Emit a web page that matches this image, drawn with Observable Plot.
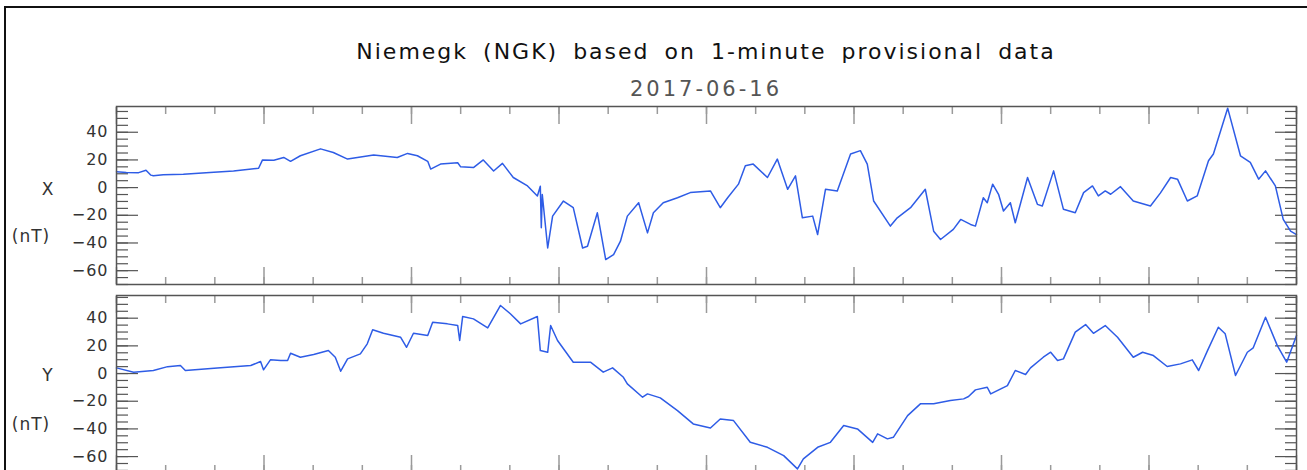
<!DOCTYPE html>
<html>
<head>
<meta charset="utf-8">
<script src="https://cdn.jsdelivr.net/npm/d3@7"></script>
<script src="https://cdn.jsdelivr.net/npm/@observablehq/plot@0.6"></script>
<style>
html, body { margin: 0; padding: 0; background: #fff; }
#wrap { position: relative; width: 1307px; height: 470px; overflow: hidden; font-family: "DejaVu Sans", sans-serif; background: #fff; }
#border { position: absolute; left: 4px; top: 6px; width: 1330px; height: 520px; border: 2px solid #111; box-sizing: border-box; }
.lbl { position: absolute; color: #333; transform: translate(-50%, -50%); white-space: nowrap; }
#title { font-size: 22px; letter-spacing: 2px; word-spacing: 6px; color: #111; }
#subtitle { font-size: 21px; letter-spacing: 3px; color: #555; }
.comp { font-size: 17px; letter-spacing: 1px; }
.panel { position: absolute; left: 0; }
.panel svg text { letter-spacing: 1px; }
</style>
</head>
<body>
<div id="wrap">
  <div id="border"></div>
  <div id="p1" class="panel" style="top:0px"></div>
  <div id="p2" class="panel" style="top:290px"></div>
  <div id="title" class="lbl" style="left:706px; top:51px"></div>
  <div id="subtitle" class="lbl" style="left:706px; top:89px"></div>
  <div class="lbl comp" style="left:48px; top:189px">X</div>
  <div class="lbl comp" style="left:31px; top:236px">(nT)</div>
  <div class="lbl comp" style="left:48px; top:375px">Y</div>
  <div class="lbl comp" style="left:31px; top:424px">(nT)</div>
</div>
<script>
// ---- text ----
const titleText = "Niemegk (NGK) based on 1-minute provisional data";
const subtitleText = "2017-06-16";

// ---- X component (nT) vs hour of day (UT) ----
const xHours = [0.00,0.20,0.45,0.60,0.70,0.75,0.95,1.36,1.90,2.38,2.89,2.97,3.20,3.40,3.54,3.74,4.15,4.41,4.70,5.23,5.71,5.92,6.12,6.33,6.39,6.59,6.94,7.00,7.26,7.46,7.67,7.85,8.07,8.36,8.56,8.62,8.64,8.66,8.77,8.87,9.09,9.29,9.48,9.58,9.78,9.95,10.11,10.25,10.39,10.62,10.80,10.92,11.12,11.41,11.67,12.08,12.28,12.43,12.65,12.79,12.95,13.24,13.44,13.65,13.81,13.95,14.16,14.26,14.42,14.66,14.72,14.93,15.13,15.27,15.40,15.74,15.88,16.15,16.45,16.62,16.76,17.02,17.17,17.37,17.47,17.63,17.71,17.82,17.94,18.04,18.18,18.28,18.53,18.73,18.83,19.06,19.26,19.50,19.67,19.85,19.97,20.11,20.22,20.42,20.68,21.03,21.23,21.44,21.58,21.78,21.98,22.21,22.31,22.60,22.86,23.06,23.23,23.37,23.57,23.73,23.88,24.00];
const xValues = [11.4,11.0,10.8,12.6,9.0,8.5,9.3,9.7,11.0,12.0,14.0,20.0,19.8,21.8,19.0,23.0,28.0,25.4,20.6,23.5,21.8,24.7,23.0,19.0,13.4,17.0,18.0,15.0,14.5,20.0,12.0,17.5,7.3,1.2,-6.0,1.0,-29.0,-5.0,-43.6,-20.6,-9.7,-14.5,-43.6,-42.4,-18.2,-52.0,-48.4,-38.7,-20.6,-10.9,-32.7,-18.2,-10.9,-7.3,-3.6,-2.4,-14.5,-7.3,2.5,15.8,17.0,7.3,20.6,-1.2,8.5,-21.8,-20.6,-33.9,-1.2,-2.4,3.6,24.3,26.7,17.0,-9.7,-27.8,-21.8,-14.5,-1.2,-31.5,-37.5,-30.2,-23.0,-26.6,-27.8,-7.3,-10.9,2.5,-4.8,-16.9,-10.9,-25.4,7.3,-12.1,-13.3,12.1,-15.7,-18.2,-3.6,1.2,-6.0,-2.4,-4.8,0.7,-9.7,-13.3,-4.0,7.3,6.1,-9.7,-6.0,19.4,24.3,57.4,23.0,18.2,6.1,12.1,1.2,-23.0,-31.5,-33.9];

// ---- Y component (nT) vs hour of day (UT) ----
const yHours = [0.00,0.35,0.75,1.04,1.30,1.40,2.05,2.73,2.93,2.99,3.13,3.34,3.48,3.54,3.74,4.01,4.31,4.45,4.56,4.70,4.96,5.10,5.21,5.43,5.78,5.90,6.04,6.33,6.43,6.73,6.94,6.98,7.04,7.26,7.55,7.81,8.01,8.22,8.56,8.62,8.77,8.83,8.97,9.29,9.64,9.90,10.09,10.31,10.39,10.70,10.80,11.06,11.41,11.73,12.08,12.28,12.55,12.89,13.24,13.57,13.85,13.97,14.26,14.52,14.79,15.07,15.38,15.48,15.68,15.80,16.09,16.35,16.62,16.96,17.23,17.33,17.47,17.71,17.78,18.12,18.28,18.49,18.59,18.85,19.00,19.14,19.26,19.50,19.71,19.87,20.11,20.36,20.68,20.87,21.09,21.37,21.64,21.88,22.01,22.19,22.41,22.55,22.76,23.00,23.12,23.37,23.61,23.80,24.00];
const yValues = [4.1,1.0,2.2,5.0,5.8,2.2,4.1,5.8,8.7,2.7,9.9,9.4,9.4,14.7,11.8,13.7,16.6,11.8,1.7,10.6,14.2,21.5,31.6,29.1,26.2,19.0,29.1,27.5,37.1,35.9,34.7,23.9,41.2,39.5,33.0,49.2,43.2,35.9,41.2,16.6,15.4,34.7,23.9,8.2,8.2,1.0,4.1,-2.7,-7.5,-17.1,-14.7,-17.6,-26.8,-36.4,-39.3,-32.8,-34.0,-49.7,-53.3,-59.3,-68.9,-61.7,-53.3,-49.7,-37.6,-40.0,-49.7,-43.6,-47.2,-46.1,-30.4,-21.9,-21.9,-19.5,-18.3,-16.6,-11.8,-9.9,-14.7,-8.7,2.2,-0.7,4.1,11.8,15.4,9.4,10.6,29.9,35.4,29.1,34.7,26.2,11.8,15.4,13.0,5.1,7.0,9.9,2.2,16.6,33.5,28.7,-1.4,15.4,18.6,40.7,20.2,8.2,27.5];

// ---- ticks ----
const majorHours = [0,3,6,9,12,15,18,21,24];
const minorHours = [0,1,2,3,4,5,6,7,8,9,10,11,12,13,14,15,16,17,18,19,20,21,22,23,24];
const nTLabels = [-60,-40,-20,0,20,40];
const nTMinor = [-70,-65,-60,-55,-50,-45,-40,-35,-30,-25,-20,-15,-10,-5,0,5,10,15,20,25,30,35,40,45,50,55];

const xDomain = [-70, 58.6];
const yDomain = [-71.5, 56.4];

document.getElementById("title").textContent = titleText;
document.getElementById("subtitle").textContent = subtitleText;

const fmt = d => d < 0 ? "\u2212" + Math.abs(d) : String(d);

function panel(hours, values, domain, height, mTop, mBottom) {
  const data = hours.map((h, i) => ({h, v: values[i]}));
  const tickX = {stroke: "#9a9a9a", strokeWidth: 1.5, tickFormat: () => "", label: null};
  const tickY = {stroke: "#555", strokeWidth: 1.2, tickFormat: () => "", label: null};
  return Plot.plot({
    width: 1307,
    height,
    marginTop: mTop,
    marginBottom: mBottom,
    marginLeft: 116,
    marginRight: 11,
    x: {domain: [0, 24], axis: null},
    y: {domain, axis: null},
    style: {fontFamily: "DejaVu Sans, sans-serif", fontSize: "16px", background: "transparent", overflow: "visible"},
    marks: [
      Plot.axisX(minorHours, {anchor: "top", tickSize: -7, ...tickX}),
      Plot.axisX(majorHours, {anchor: "top", tickSize: -17, ...tickX}),
      Plot.axisX(minorHours, {anchor: "bottom", tickSize: -7, ...tickX}),
      Plot.axisX(majorHours, {anchor: "bottom", tickSize: -17, ...tickX}),
      Plot.axisY(nTMinor, {anchor: "left", tickSize: -12, ...tickY}),
      Plot.axisY(nTLabels, {anchor: "left", tickSize: -22, ...tickY}),
      Plot.axisY(nTMinor, {anchor: "right", tickSize: -12, ...tickY}),
      Plot.axisY(nTLabels, {anchor: "right", tickSize: -22, ...tickY}),
      Plot.axisY(nTLabels, {anchor: "left", tickSize: 0, tickPadding: 8, tickFormat: fmt, fill: "#333", fontSize: 16, label: null}),
      Plot.line(data, {x: "h", y: "v", stroke: "#2e5ce6", strokeWidth: 1.5, strokeLinejoin: "round"}),
      Plot.frame({stroke: "#555", strokeWidth: 1.5})
    ]
  });
}

document.getElementById("p1").appendChild(panel(xHours, xValues, xDomain, 290, 106, 6));
document.getElementById("p2").appendChild(panel(yHours, yValues, yDomain, 190, 5, 8));
</script>
</body>
</html>
